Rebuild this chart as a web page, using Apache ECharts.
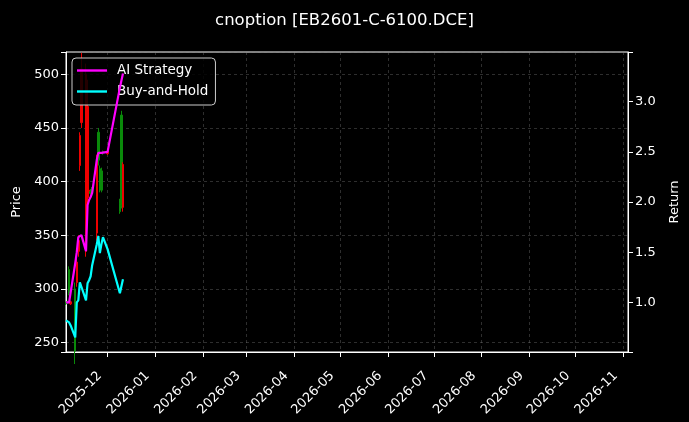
<!DOCTYPE html>
<html>
<head>
<meta charset="utf-8">
<script src="https://cdn.jsdelivr.net/npm/echarts@6/dist/echarts.min.js"></script>
<style>
html,body{margin:0;padding:0;background:#000;}
#chart{width:689px;height:422px;}
</style>
</head>
<body>
<div id="chart"></div>
<script>
// ---- data ----
const dates = ['2025-11-04','2025-11-05','2025-11-06','2025-11-07','2025-11-10','2025-11-11','2025-11-12','2025-11-13','2025-11-14','2025-11-17','2025-11-18','2025-11-19','2025-11-20','2025-11-21','2025-11-24','2025-11-25','2025-11-26','2025-11-27','2025-11-28','2025-12-01','2025-12-09','2025-12-10','2025-12-11'];
const openP  = [286, 287, 296, 288, 242, 325, 345, 443, 505, 500, 470, 392, 389, 391, 420, 420, 395, 392, 427, 428, 372, 378, 416];
const closeP = [287, 288, 318, 286, 300, 306, 335, 415, 455, 335, 385, 390, 391, 393, 352, 446, 412, 410, 428, 426, 380, 462, 376];
const lowP   = [285, 286, 294, 285, 230, 302, 330, 410, 450, 330, 380, 388, 388, 389, 345, 415, 390, 390, 425, 425, 370, 375, 372];
const highP  = [288, 289, 321, 289, 306, 328, 350, 446, 520, 510, 495, 394, 393, 395, 425, 450, 415, 413, 429, 429, 384, 466, 418];
const aiReturn  = [1.00, 1.00, 1.00, 1.00, 1.39, 1.50, 1.65, 1.66, 1.67, 1.51, 1.97, 2.02, 2.05, 2.09, 2.42, 2.49, 2.49, 2.49, 2.49, 2.50, 3.14, 3.21, 3.28];
const bhReturn  = [0.82, 0.81, 0.80, 0.77, 0.65, 1.00, 1.02, 1.20, 1.21, 1.02, 1.19, 1.22, 1.26, 1.37, 1.58, 1.66, 1.49, 1.58, 1.65, 1.53, 1.09, 1.16, 1.23];
const titleText = 'cnoption [EB2601-C-6100.DCE]';
const xStart = '2025-11-04';
const spanDays = 365;

// ---- build ----
const DAY = 86400000;
const t = dates.map(d => new Date(d + 'T00:00:00Z').getTime());
const xMin = new Date(xStart + 'T00:00:00Z').getTime();
const xMax = xMin + spanDays * DAY;
const candles = t.map((ts, i) => [ts, openP[i], closeP[i], lowP[i], highP[i]]);
const aiLine = t.map((ts, i) => [ts, aiReturn[i]]);
const bhLine = t.map((ts, i) => [ts, bhReturn[i]]);
const pad = n => (n < 10 ? '0' : '') + n;
const FONT = 'DejaVu Sans';
const gridLine = { show: true, lineStyle: { color: 'rgba(140,140,140,0.55)', type: [3, 3], width: 0.6 } };
const lineIcon = 'path://M0,0 L30,0 L30,2.4 L0,2.4 Z';

const chart = echarts.init(document.getElementById('chart'), null, { renderer: 'canvas' });
chart.setOption({
  backgroundColor: '#000',
  useUTC: true,
  animation: false,
  textStyle: { fontFamily: FONT },
  title: {
    text: titleText, left: 'center', top: 7,
    textStyle: { color: '#fff', fontSize: 16.5, fontWeight: 'normal', fontFamily: FONT }
  },
  legend: {
    left: 72, top: 58, orient: 'vertical',
    data: [{ name: 'AI Strategy', icon: lineIcon }, { name: 'Buy-and-Hold', icon: lineIcon }],
    itemWidth: 30, itemHeight: 15, itemGap: 6, symbolKeepAspect: true,
    padding: [5, 7, 6, 5],
    borderColor: '#cccccc', borderWidth: 1, borderRadius: 4,
    backgroundColor: 'rgba(0,0,0,0.85)',
    textStyle: { color: '#fff', fontSize: 13.5, lineHeight: 15, fontFamily: FONT, padding: [0, 0, 0, 5] }
  },
  grid: { left: 66, right: 60, top: 52, bottom: 70, show: true, borderColor: '#fff', borderWidth: 1, backgroundColor: 'transparent' },
  xAxis: {
    type: 'time', min: xMin, max: xMax, splitNumber: 12,
    axisLine: { lineStyle: { color: '#fff', width: 1 } },
    axisTick: { show: true, length: 5, lineStyle: { color: '#fff' } },
    axisLabel: {
      color: '#fff', fontSize: 13, fontFamily: FONT, rotate: 45, margin: 14, hideOverlap: false,
      padding: [0, 11, 0, 0],
      formatter: v => { const d = new Date(v); return d.getUTCDate() === 1 ? d.getUTCFullYear() + '-' + pad(d.getUTCMonth() + 1) : ''; }
    },
    splitLine: gridLine
  },
  yAxis: [
    {
      type: 'value', position: 'left', min: 241.2, max: 520.8, splitNumber: 5, scale: true,
      name: 'Price', nameLocation: 'middle', nameRotate: 90, nameGap: 42,
      nameTextStyle: { color: '#fff', fontSize: 13, fontFamily: FONT },
      axisLine: { show: true, lineStyle: { color: '#fff' } },
      axisTick: { show: true, length: 5, lineStyle: { color: '#fff' } },
      axisLabel: { color: '#fff', fontSize: 13, fontFamily: FONT, margin: 7,
        formatter: v => (Math.abs(v / 50 - Math.round(v / 50)) < 1e-6 ? String(Math.round(v)) : '') },
      splitLine: gridLine
    },
    {
      type: 'value', position: 'right', min: 0.505, max: 3.495, splitNumber: 6, scale: true,
      name: 'Return', nameLocation: 'middle', nameRotate: 90, nameGap: 40,
      nameTextStyle: { color: '#fff', fontSize: 13, fontFamily: FONT },
      axisLine: { show: true, lineStyle: { color: '#fff' } },
      axisTick: { show: true, length: 5, lineStyle: { color: '#fff' } },
      axisLabel: { color: '#fff', fontSize: 13, fontFamily: FONT, margin: 7,
        formatter: v => (Math.abs(v / 0.5 - Math.round(v / 0.5)) < 1e-6 ? v.toFixed(1) : '') },
      splitLine: { show: false }
    }
  ],
  series: [
    {
      name: 'Price', type: 'candlestick', xAxisIndex: 0, yAxisIndex: 0,
      data: candles, encode: { x: 0, y: [1, 2, 3, 4] }, barWidth: 2, clip: true,
      itemStyle: { color: '#0a8a0a', color0: '#ee0000', borderColor: '#0a8a0a', borderColor0: '#ee0000', borderWidth: 1 }
    },
    {
      name: 'AI Strategy', type: 'line', yAxisIndex: 1, data: aiLine, z: 4,
      showSymbol: false, symbol: 'none', lineStyle: { color: '#ff00ff', width: 2.2 }, itemStyle: { color: '#ff00ff' }
    },
    {
      name: 'Buy-and-Hold', type: 'line', yAxisIndex: 1, data: bhLine, z: 4,
      showSymbol: false, symbol: 'none', lineStyle: { color: '#00ffff', width: 2.2 }, itemStyle: { color: '#00ffff' }
    }
  ]
});
</script>
</body>
</html>
